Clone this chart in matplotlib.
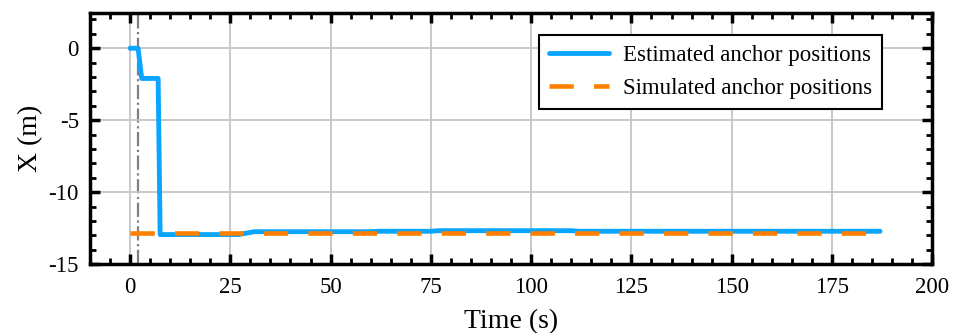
import matplotlib
matplotlib.use("Agg")
import matplotlib.pyplot as plt
from matplotlib.ticker import MultipleLocator

plt.rcParams['font.family'] = ['Liberation Serif', 'DejaVu Serif']
plt.rcParams['mathtext.fontset'] = 'stix'

# Data
t_est = [0, 2, 2.9, 7.0, 7.5, 27, 31, 60, 62, 75, 77, 110, 112, 165, 167, 187]
x_est = [0, 0, -2.1, -2.1, -12.95, -12.95, -12.75, -12.75, -12.72, -12.72, -12.68, -12.68, -12.72, -12.72, -12.72, -12.72]
t_sim = [0, 188]
x_sim = [-12.85, -12.85]
t_marker = 2

xticks = [0, 25, 50, 75, 100, 125, 150, 175, 200]
yticks = [0, -5, -10, -15]

fig = plt.figure(figsize=(9.56, 3.33), dpi=100)
ax = fig.add_axes([0.0941, 0.207, 0.881, 0.754])

ax.grid(True, which='major', color='#c4c4c4', linewidth=1.3, zorder=0)
ax.axvline(t_marker, color='#808080', linestyle='-.', linewidth=1.6, zorder=1)
ax.plot(t_est, x_est, color='#0AA5FF', linewidth=3.5, label='Estimated anchor positions', zorder=3,
        solid_capstyle='round')
ax.plot(t_sim, x_sim, color='#FF8000', linewidth=3.3, dashes=(5.3, 4.4), label='Simulated anchor positions', zorder=4)

ax.set_xlim(-10, 200)
ax.set_ylim(-15, 2.45)
ax.set_xticks(xticks)
ax.set_yticks(yticks)
ax.set_yticklabels([str(v) for v in yticks])
ax.xaxis.set_minor_locator(MultipleLocator(5))
ax.yaxis.set_minor_locator(MultipleLocator(1))
ax.tick_params(which='both', direction='in', top=True, right=True, labelsize=16.5)
ax.tick_params(axis='x', which='both', pad=9)
ax.tick_params(axis='y', which='both', pad=8)
ax.tick_params(which='major', length=7, width=2.5)
ax.tick_params(which='minor', length=4, width=2)
for s in ax.spines.values():
    s.set_linewidth(2.5)

ax.set_xlabel('Time (s)', fontsize=20, labelpad=8)
ax.set_ylabel('X (m)', fontsize=20, labelpad=4)

leg = ax.legend(loc='upper right', bbox_to_anchor=(0.9406, 0.912), fontsize=16.5, fancybox=False,
                framealpha=1, edgecolor='black', handlelength=2.6, borderpad=0.45, labelspacing=0.5,
                handletextpad=0.6, borderaxespad=0)
leg.get_frame().set_linewidth(1.5)

fig.savefig('out.png', dpi=100)
